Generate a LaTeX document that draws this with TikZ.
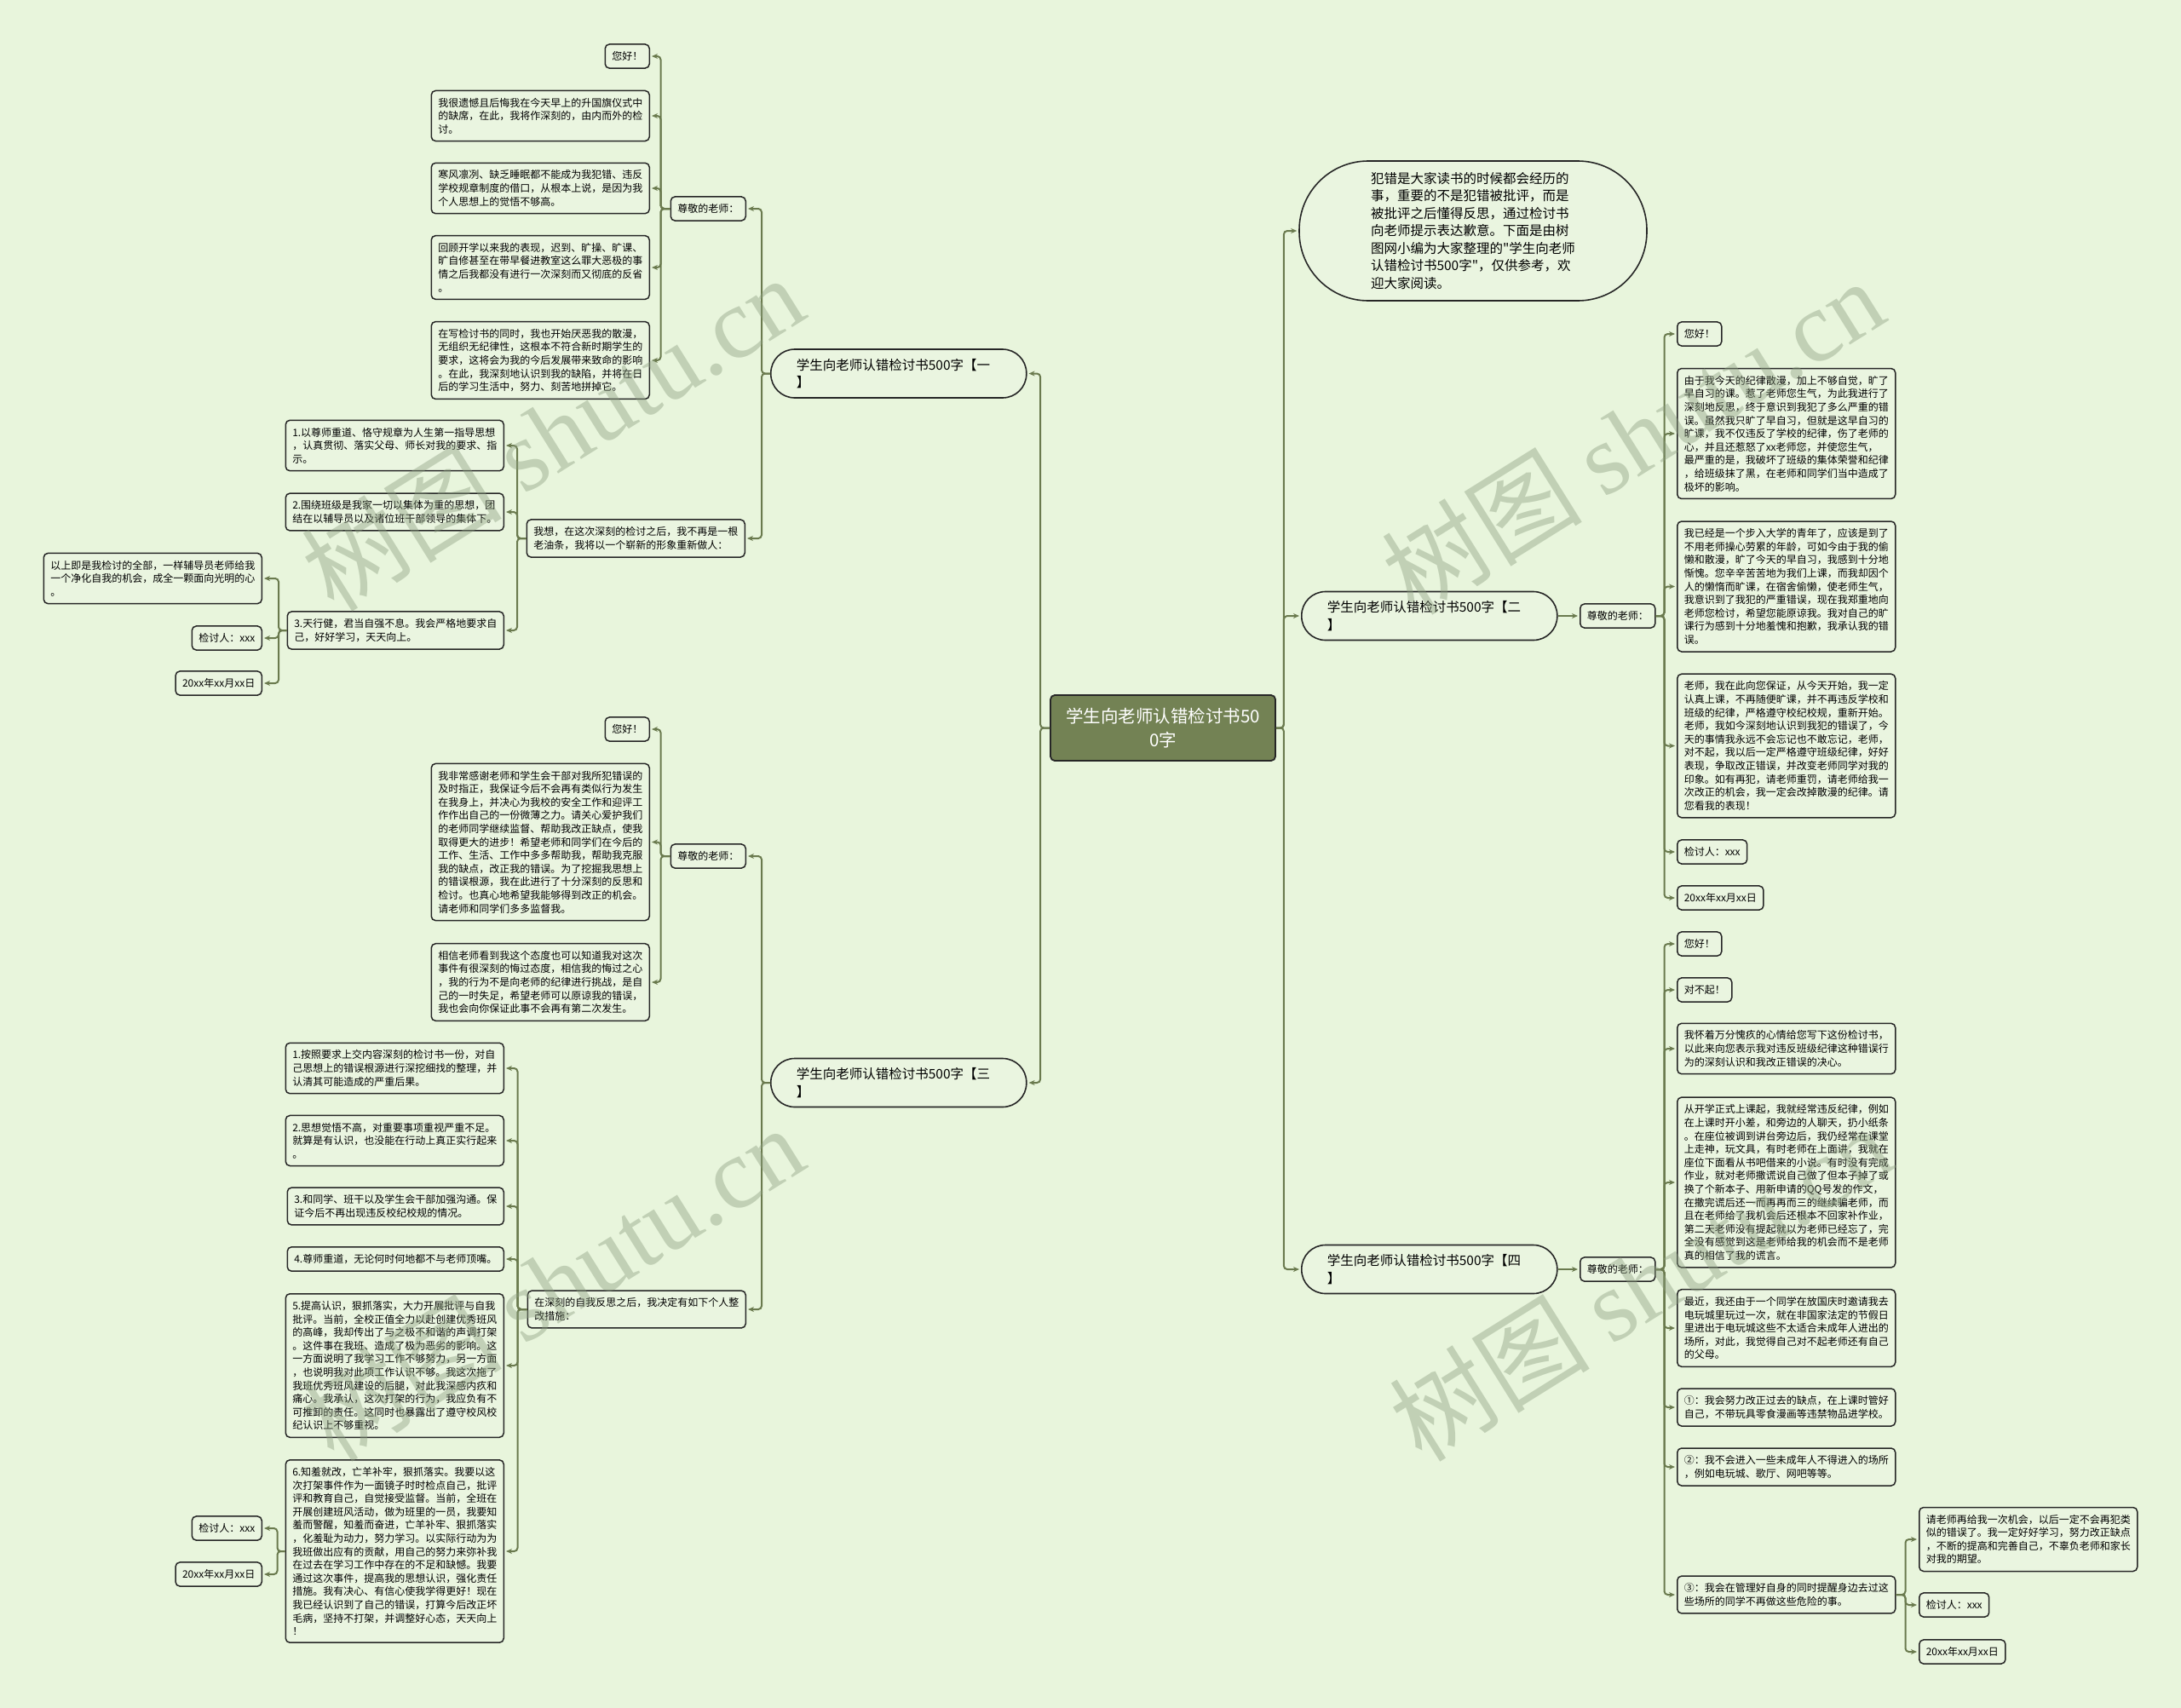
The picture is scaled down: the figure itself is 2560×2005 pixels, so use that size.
\documentclass[tikz,border=0pt]{standalone}
\usepackage{fontspec}
\setmainfont{Noto Sans CJK SC}[Ligatures=TeXOff]
\newfontfamily\wmserif{Liberation Serif}
\usetikzlibrary{arrows.meta}
\definecolor{bgc}{RGB}{232,245,220}
\definecolor{boxfill}{RGB}{234,245,224}
\definecolor{linec}{RGB}{106,122,78}
\definecolor{rootc}{RGB}{115,130,84}
\definecolor{edgec}{RGB}{38,38,38}
\definecolor{wmc}{RGB}{140,158,128}
\newcommand\bodyfont{\fontsize{12}{15.6}\selectfont}
\newcommand\branchfont{\fontsize{15.5}{20.5}\selectfont}
\newcommand\rootfont{\fontsize{20.5}{28}\selectfont}
\newcommand\wmfont{\fontsize{118}{120}\selectfont}
\begin{document}
\begin{tikzpicture}[x=1pt,y=-1pt,
  tbox/.style={draw=edgec, fill=boxfill, line width=1.5pt, rounded corners=5pt, inner xsep=8pt, inner ysep=8.5pt, align=left, font=\bodyfont},
  rbox/.style={tbox, anchor=west},
  lbox/.style={tbox, anchor=east},
  branch/.style={draw=edgec, fill=boxfill, line width=1.6pt, rounded corners=28pt, text width=240pt, inner xsep=30pt, minimum height=57pt, align=left, font=\branchfont, anchor=west},
  root/.style={draw=edgec, fill=rootc, line width=1.8pt, rounded corners=5pt, minimum width=264pt, minimum height=77pt, align=center, text=white, font=\rootfont},
  conn/.style={draw=linec, line width=2pt, rounded corners=4pt, -{Stealth[length=7pt,width=6pt]}, shorten >=2pt},
  wm/.style={rotate=32, text=wmc, text opacity=0.42, font=\wmfont}
]
\fill[bgc] (0,0) rectangle (2560,2005);
\useasboundingbox (0,0) rectangle (2560,2005);

% root
\node[root] (c) at (1365,854.5) {学生向老师认错检讨书50\\0字};

% ---------- branch 1 (left top)
\node[branch] (b1) at (904,438.5) {学生向老师认错检讨书500字【一\\】};
\node[lbox] (t1) at (876,245) {尊敬的老师：};
\node[lbox] (g1) at (763,66) {您好！};
\node[lbox] (p1a) at (763,136) {我很遗憾且后悔我在今天早上的升国旗仪式中\\的缺席，在此，我将作深刻的，由内而外的检\\讨。};
\node[lbox] (p1b) at (763,221) {寒风凛冽、缺乏睡眠都不能成为我犯错、违反\\学校规章制度的借口，从根本上说，是因为我\\个人思想上的觉悟不够高。};
\node[lbox] (p1c) at (763,314) {回顾开学以来我的表现，迟到、旷操、旷课、\\旷自修甚至在带早餐进教室这么罪大恶极的事\\情之后我都没有进行一次深刻而又彻底的反省\\。};
\node[lbox] (p1d) at (763,423) {在写检讨书的同时，我也开始厌恶我的散漫，\\无组织无纪律性，这根本不符合新时期学生的\\要求，这将会为我的今后发展带来致命的影响\\。在此，我深刻地认识到我的缺陷，并将在日\\后的学习生活中，努力、刻苦地拼掉它。};
\node[lbox] (w1) at (875,632) {我想，在这次深刻的检讨之后，我不再是一根\\老油条，我将以一个崭新的形象重新做人：};
\node[lbox] (m1) at (592,523) {1.以尊师重道、恪守规章为人生第一指导思想\\，认真贯彻、落实父母、师长对我的要求、指\\示。};
\node[lbox] (m2) at (592,601) {2.围绕班级是我家一切以集体为重的思想，团\\结在以辅导员以及诸位班干部领导的集体下。};
\node[lbox] (m3) at (592,740) {3.天行健，君当自强不息。我会严格地要求自\\己，好好学习，天天向上。};
\node[lbox] (e1) at (308,679) {以上即是我检讨的全部，一样辅导员老师给我\\一个净化自我的机会，成全一颗面向光明的心\\。};
\node[lbox] (k1) at (308,749) {检讨人：xxx};
\node[lbox] (d1) at (308,802) {20xx年xx月xx日};

% ---------- branch 3 (left bottom)
\node[branch] (b3) at (904,1271) {学生向老师认错检讨书500字【三\\】};
\node[lbox] (t3) at (876,1005) {尊敬的老师：};
\node[lbox] (g3) at (763,856) {您好！};
\node[lbox] (p3a) at (763,988.5) {我非常感谢老师和学生会干部对我所犯错误的\\及时指正，我保证今后不会再有类似行为发生\\在我身上，并决心为我校的安全工作和迎评工\\作作出自己的一份微薄之力。请关心爱护我们\\的老师同学继续监督、帮助我改正缺点，使我\\取得更大的进步！希望老师和同学们在今后的\\工作、生活、工作中多多帮助我，帮助我克服\\我的缺点，改正我的错误。为了挖掘我思想上\\的错误根源，我在此进行了十分深刻的反思和\\检讨。也真心地希望我能够得到改正的机会。\\请老师和同学们多多监督我。};
\node[lbox] (p3b) at (763,1153) {相信老师看到我这个态度也可以知道我对这次\\事件有很深刻的悔过态度，相信我的悔过之心\\，我的行为不是向老师的纪律进行挑战，是自\\己的一时失足，希望老师可以原谅我的错误，\\我也会向你保证此事不会再有第二次发生。};
\node[lbox] (z3) at (876,1537) {在深刻的自我反思之后，我决定有如下个人整\\改措施：};
\node[lbox] (s1) at (592,1254) {1.按照要求上交内容深刻的检讨书一份，对自\\己思想上的错误根源进行深挖细找的整理，并\\认清其可能造成的严重后果。};
\node[lbox] (s2) at (592,1339) {2.思想觉悟不高，对重要事项重视严重不足。\\就算是有认识，也没能在行动上真正实行起来\\。};
\node[lbox] (s3) at (592,1416) {3.和同学、班干以及学生会干部加强沟通。保\\证今后不再出现违反校纪校规的情况。};
\node[lbox] (s4) at (592,1478) {4.尊师重道，无论何时何地都不与老师顶嘴。};
\node[lbox] (s5) at (592,1603) {5.提高认识，狠抓落实，大力开展批评与自我\\批评。当前，全校正值全力以赴创建优秀班风\\的高峰，我却传出了与之极不和谐的声调打架\\。这件事在我班、造成了极为恶劣的影响。这\\一方面说明了我学习工作不够努力，另一方面\\，也说明我对此项工作认识不够。我这次拖了\\我班优秀班风建设的后腿，对此我深感内疚和\\痛心。我承认，这次打架的行为，我应负有不\\可推卸的责任。这同时也暴露出了遵守校风校\\纪认识上不够重视。};
\node[lbox] (s6) at (592,1821) {6.知羞就改，亡羊补牢，狠抓落实。我要以这\\次打架事件作为一面镜子时时检点自己，批评\\评和教育自己，自觉接受监督。当前，全班在\\开展创建班风活动，做为班里的一员，我要知\\羞而警醒，知羞而奋进，亡羊补牢、狠抓落实\\，化羞耻为动力，努力学习。以实际行动为为\\我班做出应有的贡献，用自己的努力来弥补我\\在过去在学习工作中存在的不足和缺憾。我要\\通过这次事件，提高我的思想认识，强化责任\\措施。我有决心、有信心使我学得更好！现在\\我已经认识到了自己的错误，打算今后改正坏\\毛病，坚持不打架，并调整好心态，天天向上\\！};
\node[lbox] (k3) at (308,1794) {检讨人：xxx};
\node[lbox] (d3) at (308,1848) {20xx年xx月xx日};

% ---------- right side
\node[draw=edgec, fill=boxfill, line width=1.6pt, rounded corners=81pt, minimum width=408pt, minimum height=164pt, text width=240pt, align=left, font=\branchfont] (intro) at (1729,271) {犯错是大家读书的时候都会经历的\\事，重要的不是犯错被批评，而是\\被批评之后懂得反思，通过检讨书\\向老师提示表达歉意。下面是由树\\图网小编为大家整理的"学生向老师\\认错检讨书500字"，仅供参考，欢\\迎大家阅读。};

\node[branch] (b2) at (1527,723) {学生向老师认错检讨书500字【二\\】};
\node[rbox] (r2) at (1854,723) {尊敬的老师：};
\node[rbox] (g2) at (1968,392) {您好！};
\node[rbox] (q2a) at (1968,509) {由于我今天的纪律散漫，加上不够自觉，旷了\\早自习的课。惹了老师您生气，为此我进行了\\深刻地反思，终于意识到我犯了多么严重的错\\误。虽然我只旷了早自习，但就是这早自习的\\旷课，我不仅违反了学校的纪律，伤了老师的\\心，并且还惹怒了xx老师您，并使您生气，\\最严重的是，我破坏了班级的集体荣誉和纪律\\，给班级抹了黑，在老师和同学们当中造成了\\极坏的影响。};
\node[rbox] (q2b) at (1968,688.5) {我已经是一个步入大学的青年了，应该是到了\\不用老师操心劳累的年龄，可如今由于我的偷\\懒和散漫，旷了今天的早自习，我感到十分地\\惭愧。您辛辛苦苦地为我们上课，而我却因个\\人的懒惰而旷课，在宿舍偷懒，使老师生气，\\我意识到了我犯的严重错误，现在我郑重地向\\老师您检讨，希望您能原谅我。我对自己的旷\\课行为感到十分地羞愧和抱歉，我承认我的错\\误。};
\node[rbox] (q2c) at (1968,875.5) {老师，我在此向您保证，从今天开始，我一定\\认真上课，不再随便旷课，并不再违反学校和\\班级的纪律，严格遵守校纪校规，重新开始。\\老师，我如今深刻地认识到我犯的错误了，今\\天的事情我永远不会忘记也不敢忘记，老师，\\对不起，我以后一定严格遵守班级纪律，好好\\表现，争取改正错误，并改变老师同学对我的\\印象。如有再犯，请老师重罚，请老师给我一\\次改正的机会，我一定会改掉散漫的纪律。请\\您看我的表现！};
\node[rbox] (k2) at (1968,1000) {检讨人：xxx};
\node[rbox] (d2) at (1968,1054) {20xx年xx月xx日};

\node[branch] (b4) at (1527,1490) {学生向老师认错检讨书500字【四\\】};
\node[rbox] (r4) at (1854,1490) {尊敬的老师：};
\node[rbox] (g4) at (1968,1108) {您好！};
\node[rbox] (f4) at (1968,1162) {对不起！};
\node[rbox] (q4a) at (1968,1231) {我怀着万分愧疚的心情给您写下这份检讨书，\\以此来向您表示我对违反班级纪律这种错误行\\为的深刻认识和我改正错误的决心。};
\node[rbox] (q4b) at (1968,1388) {从开学正式上课起，我就经常违反纪律，例如\\在上课时开小差，和旁边的人聊天，扔小纸条\\。在座位被调到讲台旁边后，我仍经常在课堂\\上走神，玩文具，有时老师在上面讲，我就在\\座位下面看从书吧借来的小说。有时没有完成\\作业，就对老师撒谎说自己做了但本子掉了或\\换了个新本子、用新申请的QQ号发的作文，\\在撒完谎后还一而再再而三的继续骗老师，而\\且在老师给了我机会后还根本不回家补作业，\\第二天老师没有提起就以为老师已经忘了，完\\全没有感觉到这是老师给我的机会而不是老师\\真的相信了我的谎言。};
\node[rbox] (q4c) at (1968,1559) {最近，我还由于一个同学在放国庆时邀请我去\\电玩城里玩过一次，就在非国家法定的节假日\\里进出于电玩城这些不太适合未成年人进出的\\场所，对此，我觉得自己对不起老师还有自己\\的父母。};
\node[rbox] (o1) at (1968,1652) {①：我会努力改正过去的缺点，在上课时管好\\自己，不带玩具零食漫画等违禁物品进学校。};
\node[rbox] (o2) at (1968,1722) {②：我不会进入一些未成年人不得进入的场所\\，例如电玩城、歌厅、网吧等等。};
\node[rbox] (o3) at (1968,1872) {③：我会在管理好自身的同时提醒身边去过这\\些场所的同学不再做这些危险的事。};
\node[rbox] (v1) at (2252,1807) {请老师再给我一次机会，以后一定不会再犯类\\似的错误了。我一定好好学习，努力改正缺点\\，不断的提高和完善自己，不辜负老师和家长\\对我的期望。};
\node[rbox] (k4) at (2252,1884) {检讨人：xxx};
\node[rbox] (d4) at (2252,1939) {20xx年xx月xx日};

% ---------- connectors
\foreach \n in {b1,b3} \draw[conn] (c.west) -- ++(-11,0) |- (\n.east);
\foreach \n in {intro,b2,b4} \draw[conn] (c.east) -- ++(9,0) |- (\n.west);

\foreach \n in {t1,w1} \draw[conn] (b1.west) -- ++(-10,0) |- (\n.east);
\foreach \n in {g1,p1a,p1b,p1c,p1d} \draw[conn] (t1.west) -- ++(-11,0) |- (\n.east);
\foreach \n in {m1,m2,m3} \draw[conn] (w1.west) -- ++(-10.5,0) |- (\n.east);
\foreach \n in {e1,k1,d1} \draw[conn] (m3.west) -- ++(-9.5,0) |- (\n.east);

\foreach \n in {t3,z3} \draw[conn] (b3.west) -- ++(-10,0) |- (\n.east);
\foreach \n in {g3,p3a,p3b} \draw[conn] (t3.west) -- ++(-11,0) |- (\n.east);
\foreach \n in {s1,s2,s3,s4,s5,s6} \draw[conn] (z3.west) -- ++(-11,0) |- (\n.east);
\foreach \n in {k3,d3} \draw[conn] (s6.west) -- ++(-9,0) |- (\n.east);

\draw[conn] (b2.east) -- (r2.west);
\foreach \n in {g2,q2a,q2b,q2c,k2,d2} \draw[conn] (r2.east) -- ++(10,0) |- (\n.west);
\draw[conn] (b4.east) -- (r4.west);
\foreach \n in {g4,f4,q4a,q4b,q4c,o1,o2,o3} \draw[conn] (r4.east) -- ++(10,0) |- (\n.west);
\foreach \n in {v1,k4,d4} \draw[conn] (o3.east) -- ++(11,0) |- (\n.west);

% ---------- watermarks
\node[wm] (wm1) at (648,508) {树图 {\wmserif shutu.cn}};
\node[wm] (wm2) at (648,1506) {树图 {\wmserif shutu.cn}};
\node[wm] (wm3) at (1916,512) {树图 {\wmserif shutu.cn}};
\node[wm] (wm4) at (1925,1506) {树图 {\wmserif shutu.cn}};
\end{tikzpicture}
\end{document}
